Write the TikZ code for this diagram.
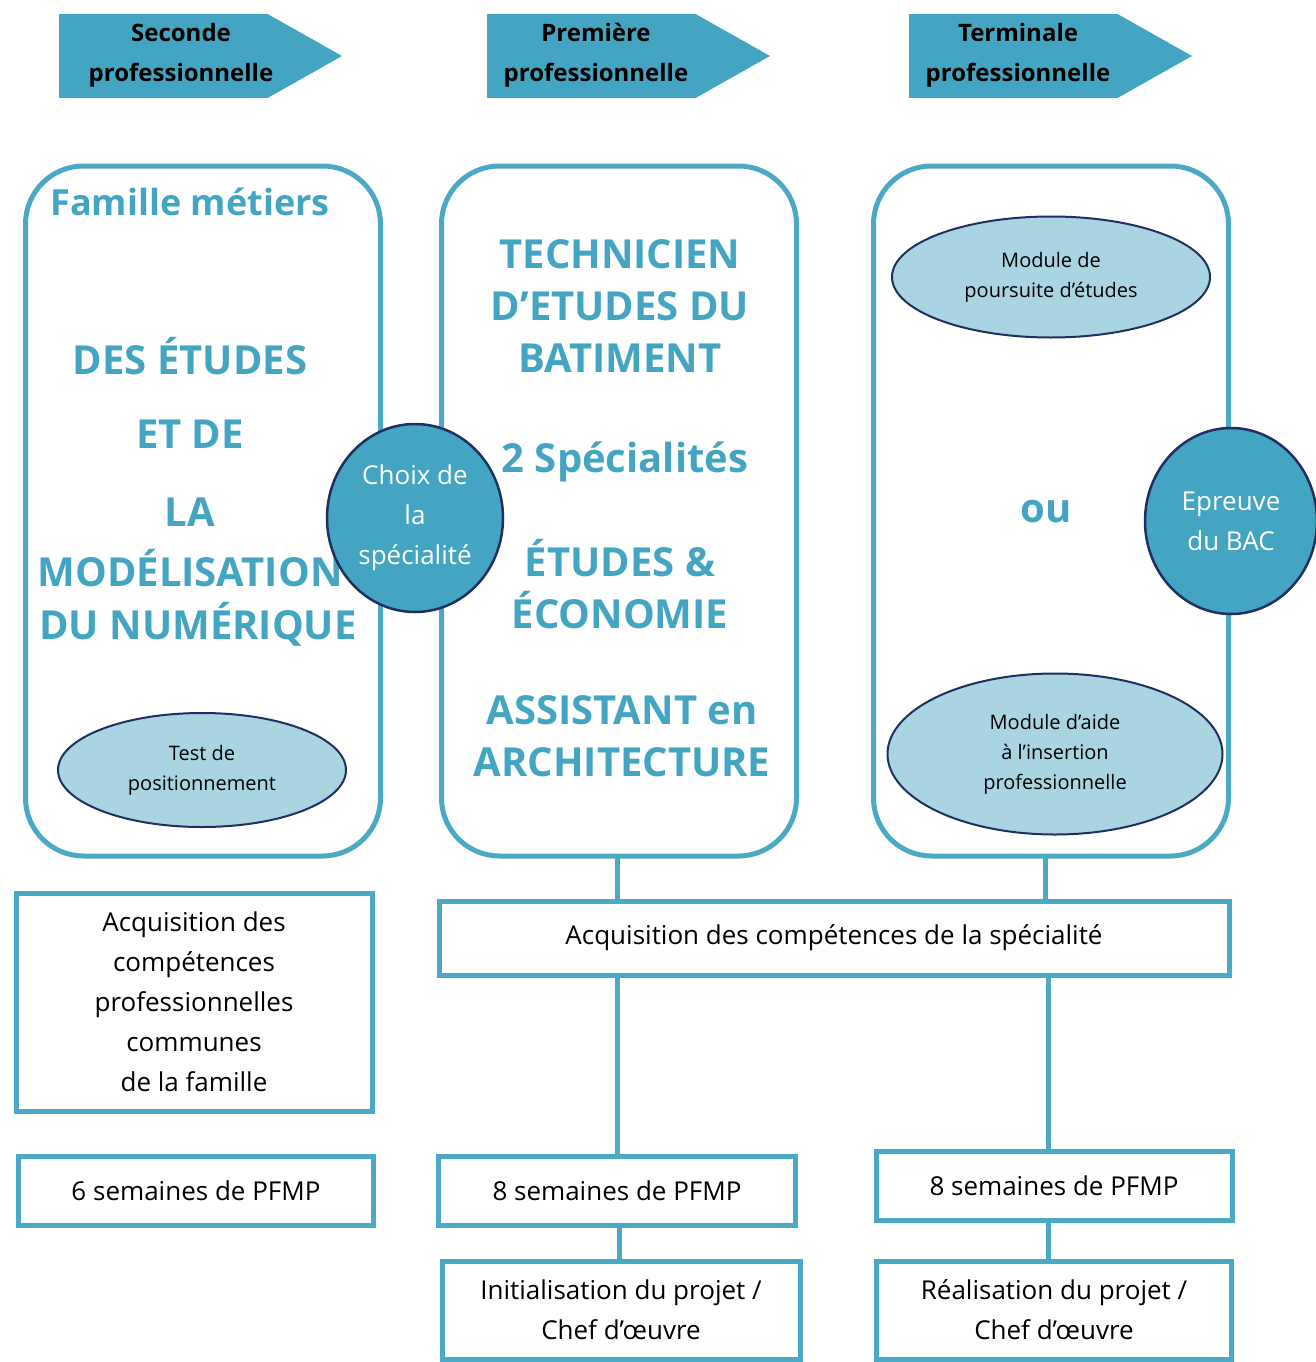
\documentclass[tikz,border=0pt]{standalone}
\usepackage{fontspec}
\setmainfont{Open Sans}
\usetikzlibrary{shapes.geometric}
\definecolor{hdrblue}{HTML}{44A5C2}
\definecolor{boxblue}{HTML}{4BA9C6}
\definecolor{lightblue}{HTML}{A9D5E2}
\definecolor{navyline}{HTML}{1F2F5F}
\tikzset{
  hdrrect/.style={fill=hdrblue, minimum width=208pt, minimum height=84pt, inner sep=0pt},
  hdrtext/.style={font=\fontsize{24pt}{40pt}\selectfont\bfseries, align=center, text=black},
  bigbox/.style={draw=boxblue, line width=5pt, rounded corners=58pt, minimum width=355pt, minimum height=690pt, inner sep=0pt},
  bluetitle/.style={font=\fontsize{36pt}{44pt}\selectfont\bfseries, text=hdrblue, inner sep=0pt},
  bluebig/.style={font=\fontsize{40pt}{52pt}\selectfont\bfseries, text=hdrblue, inner sep=0pt, align=center},
  plainbox/.style={draw=boxblue, line width=5pt, inner sep=0pt, align=center, font=\fontsize{26pt}{40pt}\selectfont},
  lightell/.style={ellipse, draw=navyline, line width=2pt, fill=lightblue, inner sep=0pt, align=center, font=\fontsize{20pt}{30pt}\selectfont},
  darkcirc/.style={ellipse, draw=navyline, line width=2.5pt, fill=hdrblue, inner sep=0pt, align=center, text=white, font=\fontsize{26pt}{40pt}\selectfont},
  link/.style={draw=boxblue, line width=5pt}
}
\begin{document}
\begin{tikzpicture}[x=1pt,y=-1pt]
\useasboundingbox (0,0) rectangle (1316,1362);
% headers
\foreach \n/\cx/\tx/\lab in {h1/163/181/{Seconde\\professionnelle}, h2/591/596/{Première\\professionnelle}, h3/1013/1018/{Terminale\\professionnelle}}{
  \node[hdrrect] (\n) at (\cx,56) {};
  \coordinate (\n tip) at (\cx+179,56);
  \fill[hdrblue] (\n.north east) -- (\n tip) -- (\n.south east) -- cycle;
  \node[hdrtext] (\n t) at (\tx,55) {\lab};
}
% big rounded boxes
\node[bigbox] (b1) at (203,511) {};
\node[bigbox] (b2) at (619,511) {};
\node[bigbox] (b3) at (1051,511) {};
% box 1 texts
\node[bluetitle] (f1) at (190,202) {Famille métiers};
\node[bluebig] (f2) at (190,356) {DES ÉTUDES};
\node[bluebig] (f3) at (190,434) {ET DE};
\node[bluebig] (f4) at (190,512) {LA};
\node[bluebig] (f5) at (190,568) {MODÉLISATION};
\node[bluebig] (f6) at (198,624) {DU NUMÉRIQUE};
\node[lightell, minimum width=288pt, minimum height=114pt] (e1) at (202,770) {Test de\\positionnement};
% box 2 texts
\node[bluebig] (g1) at (620,306) {TECHNICIEN\\D’ETUDES DU\\BATIMENT};
\node[bluebig] (g2) at (625,462) {2 Spécialités};
\node[bluebig] (g3) at (620,584) {ÉTUDES \&\\ÉCONOMIE};
\node[bluebig] (g4) at (622,736) {ASSISTANT en\\ARCHITECTURE};
% box 3 texts
\node[lightell, minimum width=318pt, minimum height=121pt] (e2) at (1051,277) {Module de\\poursuite d’études};
\node[bluebig] (ou) at (1046,512) {ou};
\node[lightell, minimum width=335pt, minimum height=161pt] (e3) at (1055,754) {Module d’aide\\à l’insertion\\professionnelle};
% circles
\node[darkcirc, minimum width=176pt, minimum height=188pt] (c1) at (415,518) {Choix de\\la\\spécialité};
\node[darkcirc, minimum width=172pt, minimum height=186pt] (c2) at (1231,521) {Epreuve\\du BAC};
% lower boxes
\node[plainbox, minimum width=790pt, minimum height=74pt] (acq) at (834,938) {Acquisition des compétences de la spécialité};
\node[plainbox, minimum width=356pt, minimum height=218pt] (acql) at (194,1002) {Acquisition des\\ compétences\\professionnelles\\communes\\de la famille};
\node[plainbox, minimum width=355pt, minimum height=69pt] (p1) at (196,1191) {6 semaines de PFMP};
\node[plainbox, minimum width=357pt, minimum height=69pt] (p2) at (617,1191) {8 semaines de PFMP};
\node[plainbox, minimum width=356pt, minimum height=69pt] (p3) at (1054,1186) {8 semaines de PFMP};
\node[plainbox, minimum width=358pt, minimum height=98pt] (i2) at (621,1310) {Initialisation du projet /\\Chef d’œuvre};
\node[plainbox, minimum width=355pt, minimum height=98pt] (r3) at (1054,1310) {Réalisation du projet /\\Chef d’œuvre};
% connectors
\coordinate (b2s) at (617,858);
\coordinate (b3s) at (1045,858);
\draw[link] (b2s) -- (b2s |- acq.north);
\draw[link] (b3s) -- (b3s |- acq.north);
\coordinate (a2) at (617,976);
\coordinate (a3) at (1048,976);
\draw[link] (a2) -- (a2 |- p2.north);
\draw[link] (a3) -- (a3 |- p3.north);
\coordinate (q2) at (619,1227);
\coordinate (q3) at (1048,1222);
\draw[link] (q2) -- (q2 |- i2.north);
\draw[link] (q3) -- (q3 |- r3.north);
\end{tikzpicture}
\end{document}
